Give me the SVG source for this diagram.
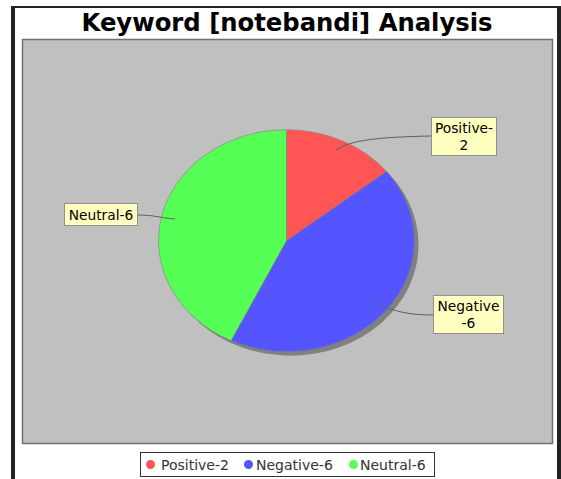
<svg xmlns="http://www.w3.org/2000/svg" width="561" height="479" viewBox="0 0 561 479">
<style>
.lbl{font-family:"DejaVu Sans","Liberation Sans",sans-serif;font-size:13.8px;fill:#000}
.box{fill:#ffffc0;stroke:#909090;stroke-width:1}
.lnk{fill:none;stroke:#606060;stroke-width:1}
.slice{stroke:#808080;stroke-width:0.6}
.leg{font-family:"DejaVu Sans","Liberation Sans",sans-serif;font-size:14px;fill:#333}
</style>
<rect x="0" y="0" width="561" height="479" fill="#ffffff"/>
<g id="frame">
<rect x="11" y="6" width="4" height="473" fill="#222"/>
<rect x="11" y="6" width="550" height="2" fill="#222"/>
<rect x="557" y="6" width="4" height="473" fill="#222"/>
</g>
<text id="title" x="287" y="31" text-anchor="middle" font-family="DejaVu Sans,'Liberation Sans',sans-serif" font-weight="bold" font-size="24" textLength="411" lengthAdjust="spacingAndGlyphs">Keyword [notebandi] Analysis</text>
<rect id="plot" x="22.5" y="39.5" width="530" height="404" fill="#c0c0c0" stroke="#707070" stroke-width="1.5"/>
<g id="pie">
<ellipse cx="290.5" cy="244.7" rx="128" ry="111" fill="#808080"/>
<path id="positive" class="slice" fill="#ff5555" d="M286.5,240.7 L286.5,129.7 A128,111 0 0 1 386.6,171.5 Z"/>
<path id="negative" class="slice" fill="#5555ff" d="M286.5,240.7 L386.6,171.5 A128,111 0 0 1 231,340.7 Z"/>
<path id="neutral" class="slice" fill="#55ff55" d="M286.5,240.7 L231,340.7 A128,111 0 0 1 286.5,129.7 Z"/>
</g>
<g id="connectors">
<path class="lnk" d="M336,150 C350,140 380,137 431,136"/>
<path class="lnk" d="M376,303 C395,312 410,315 433,315"/>
<path class="lnk" d="M138,215 C155,215 160,218 175,219"/>
</g>
<g id="label-positive">
<rect class="box" x="431.5" y="117.5" width="65" height="38"/>
<text class="lbl" x="464" y="132.5" text-anchor="middle">Positive-</text>
<text class="lbl" x="464" y="150" text-anchor="middle">2</text>
</g>
<g id="label-negative">
<rect class="box" x="433.5" y="295.5" width="70" height="38"/>
<text class="lbl" x="468.5" y="310.5" text-anchor="middle">Negative</text>
<text class="lbl" x="468.5" y="328" text-anchor="middle">-6</text>
</g>
<g id="label-neutral">
<rect class="box" x="64.5" y="203.5" width="73" height="22"/>
<text class="lbl" x="101" y="219.5" text-anchor="middle">Neutral-6</text>
</g>
<g id="legend">
<rect x="140.5" y="452.5" width="294" height="24" fill="#fff" stroke="#333" stroke-width="1"/>
<circle cx="150.5" cy="464.5" r="4.5" fill="#ff5555"/>
<text class="leg" x="161" y="469.5">Positive-2</text>
<circle cx="248.5" cy="464.5" r="4.5" fill="#5555ff"/>
<text class="leg" x="256" y="469.5">Negative-6</text>
<circle cx="353.5" cy="464.5" r="4.5" fill="#55ff55"/>
<text class="leg" x="360" y="469.5">Neutral-6</text>
</g>
</svg>
